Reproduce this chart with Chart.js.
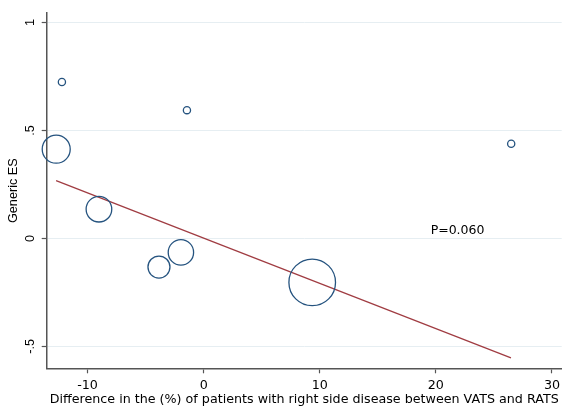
<!DOCTYPE html>
<html>
<head>
<meta charset="utf-8">
<script src="https://cdn.jsdelivr.net/npm/chart.js@4"></script>
<style>
  html, body { margin: 0; padding: 0; background: #fff; }
  canvas { display: block; }
</style>
</head>
<body>
<canvas id="chart" width="571" height="407"></canvas>
<script>
// study-level values (difference in % right side, generic effect size, weight)
const studyX = [-12.21, -1.44, 26.49, -12.70, -9.02, -3.85, -1.96, 9.35];
const studyES = [0.724, 0.594, 0.438, 0.413, 0.135, -0.133, -0.065, -0.204];
const studyWeight = [13, 13, 13, 196, 164, 121, 161, 543];

// meta-regression fitted line
const fitX = [-12.71, 26.47];
const fitY = [0.267, -0.554];

const xTicks = [-10, 0, 10, 20, 30];
const yTicks = [-0.5, 0, 0.5, 1];
const yTickLabels = ['-.5', '0', '.5', '1'];

const pValueText = 'P=0.060';
const pLabelAt = { x: 19.55, y: 0.034 };

const axisColor = '#555';

const pLabelPlugin = {
  id: 'pLabel',
  afterDatasetsDraw(chart) {
    const { ctx, scales } = chart;
    ctx.save();
    ctx.font = '12.5px "DejaVu Sans"';
    ctx.fillStyle = '#000';
    ctx.textAlign = 'left';
    ctx.textBaseline = 'middle';
    ctx.fillText(pValueText, scales.x.getPixelForValue(pLabelAt.x), scales.y.getPixelForValue(pLabelAt.y));
    ctx.restore();
  }
};

// keep the plot area fixed: no extra room for overhanging tick labels
function noLabelPadding(scale) {
  scale.paddingLeft = 0;
  scale.paddingRight = 0;
  scale.paddingTop = 0;
  scale.paddingBottom = 0;
}

new Chart(document.getElementById('chart'), {
  type: 'bubble',
  data: {
    datasets: [{
      type: 'bubble',
      data: studyX.map((x, i) => ({ x: x, y: studyES[i], r: Math.sqrt(studyWeight[i]) })),
      backgroundColor: 'rgba(0,0,0,0)',
      borderColor: '#25537f',
      borderWidth: 1.3,
      clip: false
    }, {
      type: 'line',
      data: fitX.map((x, i) => ({ x: x, y: fitY[i] })),
      borderColor: '#a03c42',
      borderWidth: 1.3,
      pointRadius: 0,
      fill: false,
      clip: false
    }]
  },
  plugins: [pLabelPlugin],
  options: {
    responsive: false,
    animation: false,
    events: [],
    layout: { autoPadding: false, padding: { left: 0, top: 13, right: 9.3, bottom: 0 } },
    plugins: {
      legend: { display: false },
      tooltip: { enabled: false }
    },
    scales: {
      x: {
        type: 'linear',
        min: -13.52,
        max: 30.84,
        afterBuildTicks: scale => { scale.ticks = xTicks.map(v => ({ value: v })); },
        afterFit: scale => { scale.height = 38.7; noLabelPadding(scale); },
        grid: { drawOnChartArea: false, drawTicks: true, tickLength: 5, tickColor: axisColor, tickWidth: 1.2 },
        border: { display: true, color: axisColor, width: 1.5 },
        ticks: {
          autoSkip: false,
          maxRotation: 0,
          padding: 5,
          color: '#000',
          font: { family: 'DejaVu Sans', size: 12.7 },
          callback: v => String(v)
        },
        title: {
          display: true,
          text: 'Difference in the (%) of patients with right side disease between VATS and RATS',
          color: '#000',
          font: { family: 'DejaVu Sans', size: 12.7 },
          padding: { top: 0, bottom: 0 }
        }
      },
      y: {
        type: 'linear',
        min: -0.602,
        max: 1.044,
        afterBuildTicks: scale => { scale.ticks = yTicks.map(v => ({ value: v })); },
        afterFit: scale => { scale.width = 46.7; noLabelPadding(scale); },
        grid: { color: '#e6eef2', lineWidth: 1, drawTicks: true, tickLength: 5, tickColor: axisColor, tickWidth: 1.2 },
        border: { display: true, color: axisColor, width: 1.5 },
        ticks: {
          autoSkip: false,
          minRotation: 90,
          maxRotation: 90,
          crossAlign: 'center',
          padding: 3.8,
          color: '#000',
          font: { family: 'Liberation Sans', size: 12.7 },
          callback: v => yTickLabels[yTicks.indexOf(v)]
        },
        title: {
          display: true,
          text: 'Generic ES',
          color: '#000',
          font: { family: 'Liberation Sans', size: 12.7 },
          padding: { top: 5.4, bottom: 0 }
        }
      }
    }
  }
});
</script>
</body>
</html>
